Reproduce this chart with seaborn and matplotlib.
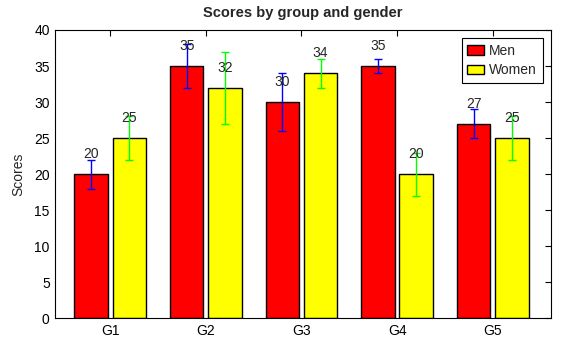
import matplotlib
matplotlib.use("Agg")
import matplotlib.pyplot as plt
import seaborn as sns
import pandas as pd
import numpy as np

groups = ["G1", "G2", "G3", "G4", "G5"]
men_means = [20, 35, 30, 35, 27]
women_means = [25, 32, 34, 20, 25]
men_std = [2, 3, 4, 1, 2]
women_std = [3, 5, 2, 3, 3]
y_ticks = [0, 5, 10, 15, 20, 25, 30, 35, 40]

sns.set_style("white")
plt.rcParams["font.family"] = ["Liberation Sans", "DejaVu Sans"]
plt.rcParams["xtick.direction"] = "in"
plt.rcParams["ytick.direction"] = "in"

df = pd.DataFrame({
    "group": groups * 2,
    "score": men_means + women_means,
    "gender": ["Men"] * 5 + ["Women"] * 5,
})

fig = plt.figure(figsize=(5.63, 3.45), dpi=100)
ax = fig.add_axes([0.0982, 0.0774, 0.8805, 0.8357])

sns.barplot(data=df, x="group", y="score", hue="gender", order=groups,
            hue_order=["Men", "Women"], palette={"Men": "#ff0000", "Women": "#ffff00"},
            width=0.8, gap=0.125, edgecolor="black", linewidth=1,
            errorbar=None, ax=ax, saturation=1)

bars = ax.patches[:10]
men_bars = bars[:5]
women_bars = bars[5:10]
for rects, means, stds, col in [(men_bars, men_means, men_std, "#0000ff"),
                                (women_bars, women_means, women_std, "#00ff00")]:
    xs = [r.get_x() + r.get_width() / 2 for r in rects]
    ax.errorbar(xs, means, yerr=stds, fmt="none", ecolor=col, elinewidth=1,
                capsize=3, capthick=1, zorder=5)
    for x, m in zip(xs, means):
        ax.text(x, m + 2.2, f"{m}", ha="center", va="baseline", fontsize=10, zorder=6)

ax.set_xlim(-0.575, 4.61)
ax.set_ylim(0, 40)
ax.set_yticks(y_ticks)
ax.set_xlabel("")
ax.set_ylabel("Scores", fontsize=10, labelpad=6)
ax.set_title("Scores by group and gender", fontsize=10.5, fontweight="bold", pad=9)
ax.tick_params(axis="both", which="both", top=True, right=True, length=4,
               width=0.8, color="black", labelsize=10, labelcolor="black", pad=4)
for s in ax.spines.values():
    s.set_visible(True)
    s.set_color("black")
    s.set_linewidth(0.8)

leg = ax.legend(loc="upper right", fancybox=False, framealpha=1, edgecolor="black",
                fontsize=10, handlelength=1.2, handleheight=0.7, handletextpad=0.4,
                borderpad=0.4, labelspacing=0.4, borderaxespad=0.6)
leg.get_frame().set_linewidth(0.8)

fig.savefig("out.png", dpi=100)
